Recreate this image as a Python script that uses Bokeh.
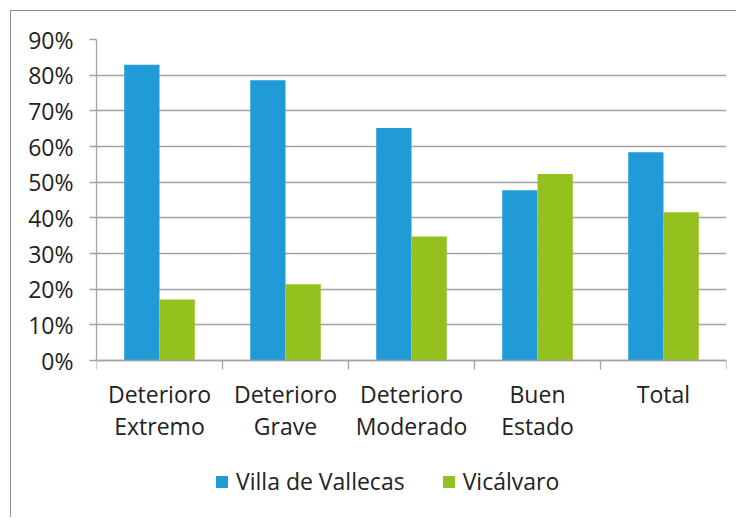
import numpy as np
from bokeh.plotting import figure
from bokeh.models import (ColumnDataSource, Range1d, FixedTicker, NumeralTickFormatter,
                          Legend, LegendItem)
from bokeh.transform import dodge
from bokeh.embed import file_html
from bokeh.resources import INLINE

categories = ["Deterioro\nExtremo", "Deterioro\nGrave", "Deterioro\nModerado", "Buen\nEstado", "Total"]
villa_vallecas = [0.829, 0.786, 0.652, 0.477, 0.584]
vicalvaro = [0.171, 0.214, 0.348, 0.523, 0.416]
y_ticks = [0.0, 0.1, 0.2, 0.3, 0.4, 0.5, 0.6, 0.7, 0.8, 0.9]
series_names = ["Villa de Vallecas", "Vicálvaro"]

BLUE = "#219BD7"
GREEN = "#95C11F"
GRID = "#a3a3a3"
TEXT = "#222222"
FONT = "Open Sans"
FS = "23px"

n = len(categories)
centers = [i + 0.5 for i in range(n)]
bounds = [float(i) for i in range(n + 1)]

# frame extends below the zero line to host the category labels and the legend
PX_PER_UNIT = 321 / 0.9
FRAME_H = 465
y_top = y_ticks[-1]
y_bottom = y_top - FRAME_H / PX_PER_UNIT

src = ColumnDataSource(dict(x=centers, villa=villa_vallecas, vica=vicalvaro))

p = figure(frame_width=630, frame_height=FRAME_H, output_backend="svg", toolbar_location=None,
           x_range=Range1d(0, n), y_range=Range1d(y_bottom, y_top),
           min_border_left=85, min_border_right=10, min_border_top=28, min_border_bottom=13)
p.styles = {"margin-left": "10px", "margin-top": "10px",
            "border-left": "1.5px solid #8f8f8f", "border-top": "1.5px solid #8f8f8f"}
p.outline_line_color = None
p.background_fill_color = "white"
p.border_fill_color = "white"

bw = 0.28
r1 = p.vbar(x=dodge("x", -bw / 2, range=p.x_range), top="villa", width=bw, source=src,
            fill_color=BLUE, line_color=None)
r2 = p.vbar(x=dodge("x", bw / 2, range=p.x_range), top="vica", width=bw, source=src,
            fill_color=GREEN, line_color=None)

# y axis
yax = p.yaxis[0]
yax.ticker = FixedTicker(ticks=y_ticks)
yax.bounds = (y_ticks[0], y_ticks[-1])
yax.formatter = NumeralTickFormatter(format="0%")
yax.axis_line_color = GRID
yax.axis_line_width = 1.3
yax.major_tick_line_color = GRID
yax.major_tick_line_width = 1.3
yax.major_tick_out = 7
yax.major_tick_in = 0
yax.minor_tick_line_color = None
yax.major_label_standoff = 16
yax.major_label_text_font = FONT
yax.major_label_text_font_size = FS
yax.major_label_text_color = TEXT

# x axis, drawn at the zero line
xax = p.xaxis[0]
xax.fixed_location = 0
xax.ticker = FixedTicker(ticks=centers, minor_ticks=bounds)
xax.major_label_overrides = {c: lab for c, lab in zip(centers, categories)}
xax.axis_line_color = GRID
xax.axis_line_width = 1.3
xax.major_tick_line_color = None
xax.major_tick_out = 0
xax.major_tick_in = 0
xax.minor_tick_line_color = GRID
xax.minor_tick_line_width = 1.3
xax.minor_tick_out = 9
xax.minor_tick_in = 0
xax.major_label_standoff = 8
xax.major_label_text_font = FONT
xax.major_label_text_font_size = FS
xax.major_label_text_color = TEXT
xax.major_label_text_line_height = 1.03

p.xgrid.grid_line_color = None
p.ygrid.ticker = FixedTicker(ticks=y_ticks)
p.ygrid.grid_line_color = GRID
p.ygrid.grid_line_width = 1.3

legend = Legend(items=[LegendItem(label=series_names[0], renderers=[r1]),
                       LegendItem(label=series_names[1], renderers=[r2])],
                orientation="horizontal", location=(118, 7))
legend.padding = 0
legend.margin = 0
legend.border_line_color = None
legend.background_fill_alpha = 0
legend.glyph_width = 15
legend.glyph_height = 15
legend.label_standoff = 7
legend.label_height = 26
legend.spacing = 36
legend.label_text_font = FONT
legend.label_text_font_size = FS
legend.label_text_color = TEXT
p.add_layout(legend, "center")

open("out.html", "w").write(file_html(p, INLINE))
